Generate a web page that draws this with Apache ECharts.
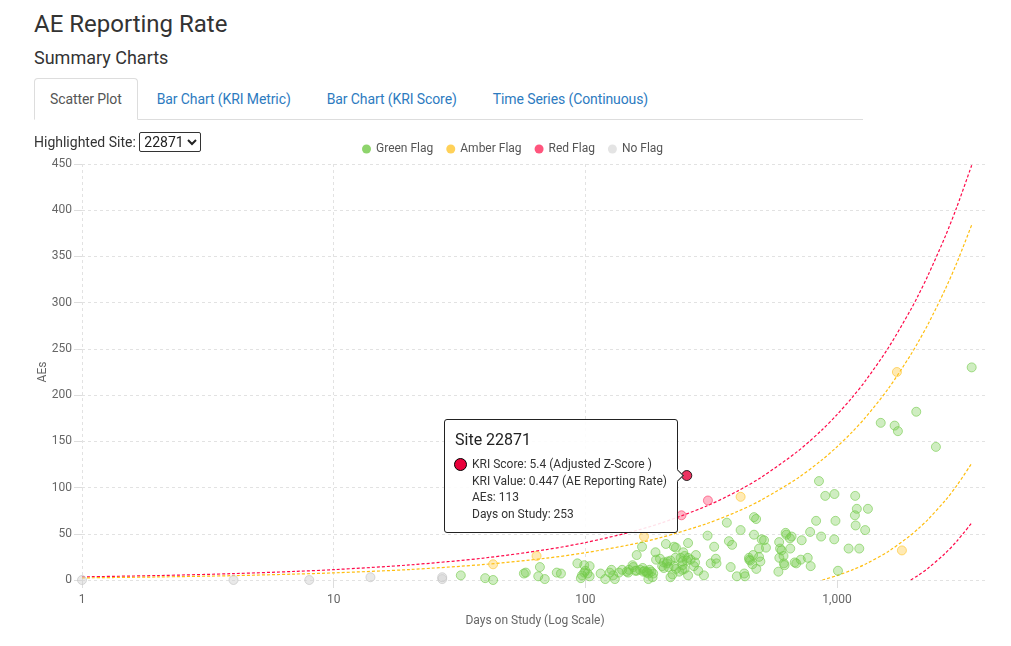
<!DOCTYPE html>
<html>
<head>
<meta charset="utf-8">
<title>AE Reporting Rate</title>
<script src="https://cdn.jsdelivr.net/npm/echarts@6/dist/echarts.min.js"></script>
<style>
  body { margin: 0; background: #fff; font-family: Roboto, "Helvetica Neue", Arial, sans-serif; color: #333; }
  #hdr { position: absolute; left: 34px; top: 0; width: 829px; z-index: 2; }
  h1 { position: absolute; top: 10px; left: 0; margin: 0; font-size: 24px; line-height: 28px; font-weight: 400; color: #333; white-space: nowrap; }
  h2 { position: absolute; top: 47px; left: 0; margin: 0; font-size: 18px; line-height: 22px; font-weight: 400; color: #333; white-space: nowrap; }
  .tabs { position: absolute; top: 78px; left: 0; width: 829px; height: 41px; margin: 0; padding: 0; list-style: none; border-bottom: 1px solid #ddd; }
  .tabs li { float: left; margin-right: 2px; }
  .tabs a { display: block; padding: 10px 16px; line-height: 20px; font-size: 14px; letter-spacing: -0.1px; color: #2d7bbf; text-decoration: none; border: 1px solid transparent; border-radius: 4px 4px 0 0; white-space: nowrap; }
  .tabs li.active a { padding: 10px 15px; color: #555; background: #fff; border-color: #ddd #ddd transparent; }
  .site { position: absolute; top: 132px; left: 0; font-size: 14px; line-height: 20px; white-space: nowrap; }
  .site select { font-size: 14px; font-family: inherit; height: 20px; padding: 0; margin-left: 0; border: 1px solid #333; border-radius: 2px; background: #fff; color: #222; }
  #chart { position: absolute; left: 0; top: 125px; width: 1011px; height: 521px; }
</style>
</head>
<body>
<div id="hdr">
  <h1>AE Reporting Rate</h1>
  <h2>Summary Charts</h2>
  <ul class="tabs">
    <li class="active"><a>Scatter Plot</a></li>
    <li><a>Bar Chart (KRI Metric)</a></li>
    <li><a>Bar Chart (KRI Score)</a></li>
    <li><a>Time Series (Continuous)</a></li>
  </ul>
  <div class="site">Highlighted Site: <select><option>22871</option></select></div>
</div>
<div id="chart"></div>
<script>
// sites by flag: [days on study, AEs]
var greenSites = [
  [32,5],[40,2],[43,0],[57,7],[58,8],[65,4],[66,14],[69,1],[77,8],[80,7],
  [93,18],[96,2],[97,5],[99,16],[99,8],[100,10],[102,7],[104,15],[104,4],[115,7],
  [120,1],[125,8],[127,11],[129,5],[131,1],[136,8],[140,11],[146,9],[148,8],[149,11],
  [154,16],[155,14],[158,10],[160,27],[160,10],[165,11],[168,36],[169,13],[170,9],[172,10],
  [175,8],[176,9],[178,7],[178,1],[180,11],[183,9],[185,3],[186,7],[190,30],[191,22],
  [198,23],[202,15],[205,13],[205,19],[209,39],[211,18],[212,20],[214,14],[218,21],[218,3],
  [222,6],[225,15],[225,36],[228,24],[229,35],[229,12],[236,9],[239,24],[243,16],[243,11],
  [243,20],[245,30],[248,26],[248,12],[253,21],[256,40],[256,24],[256,5],[262,22],[270,15],
  [273,19],[275,27],[281,10],[296,5],[306,48],[315,18],[325,36],[330,23],[332,18],[365,62],
  [372,42],[378,14],[383,38],[400,4],[414,54],[428,7],[431,4],[447,24],[448,22],[452,21],
  [461,17],[464,27],[468,68],[468,49],[477,66],[478,12],[490,34],[490,25],[496,20],[502,44],
  [513,43],[522,35],[585,9],[589,41],[590,24],[594,34],[602,32],[613,26],[615,18],[619,16],
  [625,51],[629,49],[650,45],[652,34],[660,47],[679,19],[689,18],[718,22],[724,43],[765,24],
  [782,52],[786,15],[826,64],[848,107],[865,47],[898,91],[975,44],[977,93],[986,64],[1009,10],
  [1112,34],[1178,70],[1181,91],[1186,59],[1199,77],[1226,34],[1294,54],[1327,77],[1492,170],[1694,167],
  [1746,161],[2065,182],[2472,144],[3429,230]
];
var amberSites = [[43,17],[64,26],[171,47],[414,90],[1730,225],[1811,32]];
var redSites = [[241,70],[307,86]];
var noFlagSites = [[1,0],[4,0],[8,0],[14,3],[27,1],[27,3]];

// highlighted site
var hlSite = '22871';
var hlScore = 5.4;
var hlValue = 0.447;
var hlAEs = 113;
var hlDays = 253;

// flag thresholds
var boundDays  = [1,2,4,7,10,20,40,70,100,150,200,300,400,500,700,875,1000,1150,1300,1600,1963,2100,2300,2700,3000,3429];
var redUpper   = [3.4,4.8,6.9,9.3,11.2,16.3,23.9,32.9,40.5,51.6,61.6,79.5,95.8,111.1,139.5,162.8,178.9,197.6,215.8,251.2,292.4,307.6,329.6,372.5,404.2,448.6];
var amberUpper = [2.3,3.3,4.7,6.4,7.7,11.3,16.9,23.6,29.5,38.1,46.0,60.5,73.8,86.5,110.4,130.3,144.1,160.2,176.1,207.1,243.6,257.2,276.7,315.3,343.8,384.1];
var amberLower = [null,null,null,null,null,null,null,null,null,null,null,null,null,null,null,0,4.8,10.9,17.3,30.9,48.5,55.3,65.5,86.4,102.6,126.2];
var redLower   = [null,null,null,null,null,null,null,null,null,null,null,null,null,null,null,null,null,null,null,null,0,4.9,12.7,29.2,42.3,61.7];

var xTicks = [1, 10, 100, 1000];

function pairs(ys) {
  return boundDays.map(function (d, i) { return [d, ys[i]]; });
}

var myChart = echarts.init(document.getElementById('chart'));

function dots(name, data, fill, stroke) {
  return {
    name: name,
    type: 'scatter',
    data: data,
    symbolSize: 9,
    itemStyle: { color: fill, borderColor: stroke, borderWidth: 1 },
    emphasis: { disabled: true },
    z: 3
  };
}

function curve(name, ys, color) {
  return {
    name: name,
    type: 'line',
    data: pairs(ys),
    showSymbol: false,
    symbol: 'none',
    smooth: 0.3,
    silent: true,
    connectNulls: false,
    lineStyle: { color: color, width: 1.2, type: [3, 2] },
    z: 2
  };
}

var option = {
  animation: false,
  legend: {
    left: 357,
    top: 13,
    icon: 'circle',
    itemWidth: 9,
    itemHeight: 9,
    itemGap: 13,
    selectedMode: false,
    textStyle: { fontSize: 12, color: '#555', fontFamily: 'Roboto' },
    data: [
      { name: 'Green Flag', itemStyle: { color: '#72C947', borderWidth: 0 } },
      { name: 'Amber Flag', itemStyle: { color: '#FFC52E', borderWidth: 0 } },
      { name: 'Red Flag', itemStyle: { color: '#FF2A5C', borderWidth: 0 } },
      { name: 'No Flag', itemStyle: { color: '#DDDDDD', borderWidth: 0 } }
    ]
  },
  grid: { left: 82, right: 23, top: 39, bottom: 66 },
  tooltip: {
    trigger: 'item',
    triggerOn: 'none',
    alwaysShowContent: true,
    transitionDuration: 0,
    position: function (point, params, dom, rect, size) {
      var w = size.contentSize[0], h = size.contentSize[1];
      var x = rect ? rect.x : point[0] - 5;
      var cy = rect ? rect.y + rect.height / 2 : point[1];
      return [x - w - 3, cy - h / 2];
    },
    backgroundColor: 'rgba(255,255,255,0.88)',
    borderColor: '#222',
    borderWidth: 1,
    padding: [10, 10, 10, 10],
    extraCssText: 'box-shadow:none;border-radius:3px;',
    textStyle: { fontSize: 12, color: '#333', fontFamily: 'Roboto' },
    formatter: function () {
      return '<div style="font-size:16px;line-height:20px;color:#222;margin-bottom:6px">Site ' + hlSite + '</div>' +
        '<div style="position:relative;padding-left:17px;line-height:16.5px;font-size:12px;color:#333">' +
        '<span style="position:absolute;left:-1px;top:2px;width:11px;height:11px;border-radius:50%;background:#E8003A;border:1px solid #000"></span>' +
        'KRI Score: ' + hlScore + ' (Adjusted Z-Score )<br>' +
        'KRI Value: ' + hlValue + ' (AE Reporting Rate)<br>' +
        'AEs: ' + hlAEs + '<br>' +
        'Days on Study: ' + hlDays + '</div>' +
        '<span style="position:absolute;right:-5px;top:50%;width:8px;height:8px;margin-top:-5px;background:#fff;' +
        'border-top:1px solid #222;border-right:1px solid #222;transform:rotate(45deg)"></span>';
    }
  },
  xAxis: {
    type: 'log',
    logBase: 10,
    min: 1,
    max: 3981,
    name: 'Days on Study (Log Scale)',
    nameLocation: 'middle',
    nameGap: 35,
    nameTextStyle: { fontSize: 12, color: '#666', fontFamily: 'Roboto' },
    axisLine: { show: false },
    axisTick: { show: true, length: 8, customValues: xTicks, lineStyle: { color: '#ddd' } },
    axisLabel: {
      customValues: xTicks,
      margin: 14,
      fontSize: 12,
      color: '#666',
      fontFamily: 'Roboto',
      formatter: function (v) { return Number(v).toLocaleString('en-US'); }
    },
    splitLine: { show: true, showMaxLine: false, lineStyle: { color: '#e2e2e2', type: [3, 3] } }
  },
  yAxis: {
    type: 'value',
    min: 0,
    max: 450,
    interval: 50,
    name: 'AEs',
    nameLocation: 'middle',
    nameGap: 33,
    nameMoveOverlap: false,
    nameTextStyle: { fontSize: 12, color: '#666', fontFamily: 'Roboto' },
    axisLine: { show: false },
    axisTick: { show: true, length: 8, lineStyle: { color: '#ddd' } },
    axisLabel: { margin: 10, fontSize: 12, color: '#666', fontFamily: 'Roboto' },
    splitLine: { show: true, lineStyle: { color: '#e2e2e2', type: [3, 3] } }
  },
  series: [
    dots('Green Flag', greenSites, 'rgba(114,201,71,0.42)', 'rgba(114,201,71,0.75)'),
    dots('Amber Flag', amberSites, 'rgba(255,197,46,0.45)', 'rgba(255,197,46,0.8)'),
    dots('Red Flag', redSites, 'rgba(255,42,92,0.42)', 'rgba(255,42,92,0.7)'),
    dots('No Flag', noFlagSites, 'rgba(210,210,210,0.6)', 'rgba(195,195,195,0.8)'),
    curve('redUpper', redUpper, '#FF0A4A'),
    curve('amberUpper', amberUpper, '#FFBE10'),
    curve('amberLower', amberLower, '#FFBE10'),
    curve('redLower', redLower, '#FF0A4A'),
    {
      name: 'Site ' + hlSite,
      type: 'scatter',
      data: [[hlDays, hlAEs]],
      symbolSize: 10,
      itemStyle: { color: '#E8003A', borderColor: '#000', borderWidth: 1 },
      emphasis: { disabled: true },
      z: 5
    }
  ]
};

myChart.setOption(option);
myChart.dispatchAction({ type: 'showTip', seriesIndex: 8, dataIndex: 0 });
</script>
</body>
</html>
